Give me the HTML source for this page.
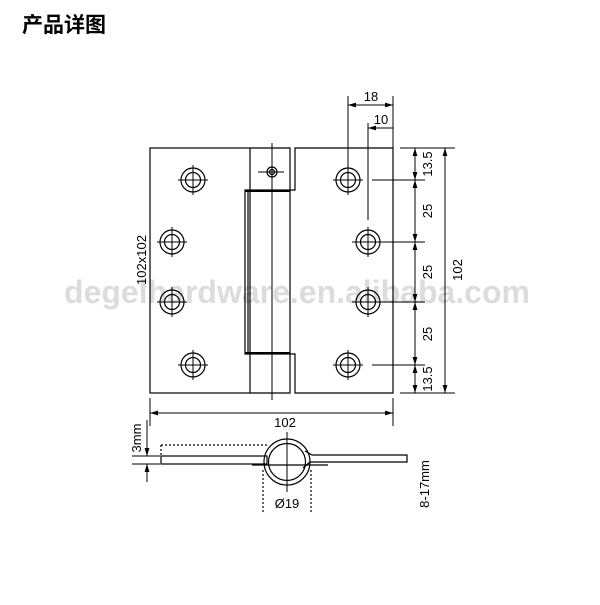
<!DOCTYPE html>
<html><head><style>body{margin:0;background:#fff;width:600px;height:600px;overflow:hidden}</style></head><body>
<svg width="600" height="600" xmlns="http://www.w3.org/2000/svg" font-family="Liberation Sans, Arial, sans-serif">
<defs>
<marker id="a" viewBox="0 0 10 10" refX="10" refY="5" markerWidth="8" markerHeight="8" orient="auto-start-reverse"><path d="M0,2 L10,5 L0,8 z" fill="#000"/></marker>
<g id="h"><circle r="12" fill="none" stroke="#000" stroke-width="1.2"/><circle r="7.5" fill="none" stroke="#000" stroke-width="1.2"/><line x1="-15" y1="0" x2="15" y2="0" stroke="#000"/><line x1="0" y1="-15" x2="0" y2="15" stroke="#000"/></g>
</defs>
<text x="22" y="32" font-family="Liberation Sans, Noto Sans CJK SC, sans-serif" font-size="21" font-weight="bold">产品详图</text>
<text x="297" y="303" text-anchor="middle" font-size="32" fill="#dcdcdc" font-weight="bold">degelhardware.en.alibaba.com</text>
<g fill="none" stroke="#000" stroke-width="1.2">
<rect x="150" y="148" width="100" height="245"/>
<polyline points="250,148 290,148 290,190 295,190 295,148 393,148 393,393 295,393 295,354 290,354 290,393 250,393"/>
<rect x="245" y="190" width="45" height="164"/>
<line x1="248" y1="190" x2="248" y2="354"/>
<line x1="245" y1="191" x2="290" y2="191" stroke-width="2"/>
<line x1="245" y1="353" x2="290" y2="353" stroke-width="2"/>
<line x1="272" y1="143" x2="272" y2="400" stroke-width="1"/>
<circle cx="272" cy="172" r="5"/><circle cx="272" cy="172" r="2.5"/>
<line x1="258" y1="172" x2="284" y2="172" stroke-width="1"/>
</g>
<use href="#h" x="193" y="180"/><use href="#h" x="172" y="242"/><use href="#h" x="172" y="302"/><use href="#h" x="193" y="365"/>
<use href="#h" x="348" y="180"/><use href="#h" x="368" y="242"/><use href="#h" x="368" y="302"/><use href="#h" x="348" y="365"/>
<g stroke="#000" stroke-width="1" fill="none">
<line x1="348" y1="96" x2="348" y2="178"/><line x1="393" y1="96" x2="393" y2="148"/>
<line x1="348" y1="105" x2="393" y2="105" marker-start="url(#a)" marker-end="url(#a)"/>
<line x1="368" y1="123" x2="368" y2="220"/>
<line x1="368" y1="128" x2="393" y2="128" marker-start="url(#a)"/>
<line x1="400" y1="148" x2="455" y2="148"/><line x1="400" y1="393" x2="455" y2="393"/>
<line x1="372" y1="180" x2="425" y2="180"/><line x1="352" y1="242" x2="425" y2="242"/><line x1="352" y1="302" x2="425" y2="302"/><line x1="372" y1="365" x2="425" y2="365"/>
<line x1="415" y1="148" x2="415" y2="180" marker-start="url(#a)" marker-end="url(#a)"/>
<line x1="415" y1="180" x2="415" y2="242" marker-start="url(#a)" marker-end="url(#a)"/>
<line x1="415" y1="242" x2="415" y2="302" marker-start="url(#a)" marker-end="url(#a)"/>
<line x1="415" y1="302" x2="415" y2="365" marker-start="url(#a)" marker-end="url(#a)"/>
<line x1="415" y1="365" x2="415" y2="393" marker-start="url(#a)" marker-end="url(#a)"/>
<line x1="445" y1="148" x2="445" y2="393" marker-start="url(#a)" marker-end="url(#a)"/>
<line x1="150" y1="398" x2="150" y2="426"/><line x1="393" y1="398" x2="393" y2="426"/>
<line x1="150" y1="413" x2="393" y2="413" marker-start="url(#a)" marker-end="url(#a)"/>
<line x1="132" y1="456" x2="160" y2="456"/><line x1="132" y1="464" x2="160" y2="464"/>
<line x1="147" y1="420" x2="147" y2="456" marker-end="url(#a)"/>
<line x1="147" y1="482" x2="147" y2="464" marker-end="url(#a)"/>
</g>
<g fill="none" stroke="#000" stroke-width="1.2">
<path d="M161,445 L268,445 M161,445 L161,456" stroke-dasharray="2,2"/>
<rect x="161" y="456" width="106" height="8"/>
<circle cx="287" cy="462" r="23"/><circle cx="287" cy="462" r="18.5"/>
<polyline points="305,451 312,455 407,455 407,462 310,462 303,468"/>
<line x1="252" y1="465" x2="328" y2="465"/>
<line x1="287" y1="432" x2="287" y2="492" stroke-width="1"/>
<line x1="263" y1="470" x2="263" y2="514" stroke-dasharray="2,2"/>
<line x1="311" y1="470" x2="311" y2="514" stroke-dasharray="2,2"/>
</g>
<g font-size="13" fill="#000">
<text x="371" y="101" text-anchor="middle">18</text>
<text x="381" y="124" text-anchor="middle">10</text>
<text x="285" y="427" text-anchor="middle">102</text>
<text x="287" y="508" text-anchor="middle">Ø19</text>
<text transform="translate(432,164) rotate(-90)" text-anchor="middle">13.5</text>
<text transform="translate(432,211) rotate(-90)" text-anchor="middle">25</text>
<text transform="translate(432,272) rotate(-90)" text-anchor="middle">25</text>
<text transform="translate(432,334) rotate(-90)" text-anchor="middle">25</text>
<text transform="translate(432,379) rotate(-90)" text-anchor="middle">13.5</text>
<text transform="translate(462,270) rotate(-90)" text-anchor="middle">102</text>
<text transform="translate(146,260) rotate(-90)" text-anchor="middle">102x102</text>
<text transform="translate(141,438) rotate(-90)" text-anchor="middle">3mm</text>
<text transform="translate(429,484) rotate(-90)" text-anchor="middle">8-17mm</text>
</g>
</svg>
</body></html>
